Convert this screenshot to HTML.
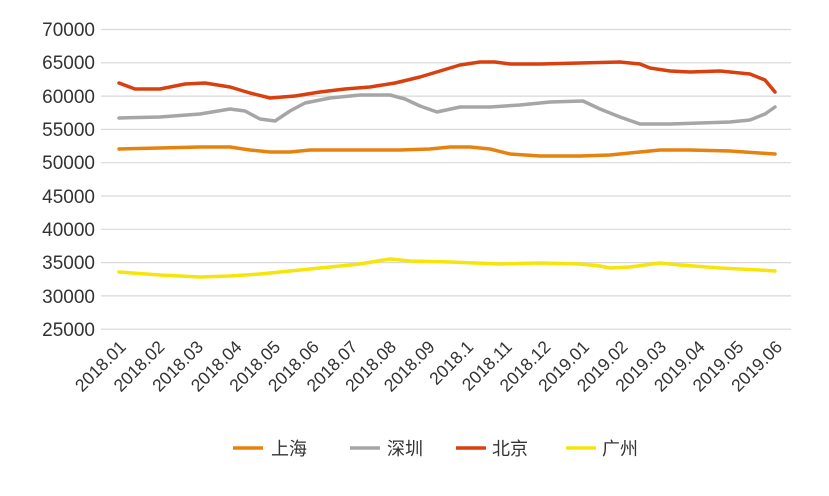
<!DOCTYPE html>
<html><head><meta charset="utf-8"><style>
html,body{margin:0;padding:0;background:#fff;}
svg{display:block;font-family:"Liberation Sans","Noto Sans CJK SC",sans-serif;}
</style></head><body>
<svg width="829" height="496" viewBox="0 0 829 496">
<g stroke="#d9d9d9" stroke-width="1.2">
<line x1="101" x2="791" y1="29.5" y2="29.5"/><line x1="101" x2="791" y1="62.8" y2="62.8"/>
<line x1="101" x2="791" y1="96.1" y2="96.1"/><line x1="101" x2="791" y1="129.4" y2="129.4"/>
<line x1="101" x2="791" y1="162.7" y2="162.7"/><line x1="101" x2="791" y1="196" y2="196"/>
<line x1="101" x2="791" y1="229.3" y2="229.3"/><line x1="101" x2="791" y1="262.6" y2="262.6"/>
<line x1="101" x2="791" y1="295.9" y2="295.9"/><line x1="101" x2="791" y1="329.2" y2="329.2"/>
</g>
<g fill="#333" font-size="19" text-anchor="end">
<text x="95" y="36">70000</text><text x="95" y="69">65000</text><text x="95" y="103">60000</text>
<text x="95" y="136">55000</text><text x="95" y="169">50000</text><text x="95" y="203">45000</text>
<text x="95" y="236">40000</text><text x="95" y="269">35000</text><text x="95" y="303">30000</text>
<text x="95" y="336">25000</text>
</g>
<g fill="#333" font-size="17.5" text-anchor="end">
<text transform="translate(127,348) rotate(-45)">2018.01</text>
<text transform="translate(165.6,348) rotate(-45)">2018.02</text>
<text transform="translate(204.2,348) rotate(-45)">2018.03</text>
<text transform="translate(242.8,348) rotate(-45)">2018.04</text>
<text transform="translate(281.4,348) rotate(-45)">2018.05</text>
<text transform="translate(320,348) rotate(-45)">2018.06</text>
<text transform="translate(358.6,348) rotate(-45)">2018.07</text>
<text transform="translate(397.2,348) rotate(-45)">2018.08</text>
<text transform="translate(435.8,348) rotate(-45)">2018.09</text>
<text transform="translate(474.4,348) rotate(-45)">2018.1</text>
<text transform="translate(513,348) rotate(-45)">2018.11</text>
<text transform="translate(551.6,348) rotate(-45)">2018.12</text>
<text transform="translate(590.2,348) rotate(-45)">2019.01</text>
<text transform="translate(628.8,348) rotate(-45)">2019.02</text>
<text transform="translate(667.4,348) rotate(-45)">2019.03</text>
<text transform="translate(706,348) rotate(-45)">2019.04</text>
<text transform="translate(744.6,348) rotate(-45)">2019.05</text>
<text transform="translate(783.2,348) rotate(-45)">2019.06</text>
</g>
<g fill="none" stroke-width="3.5" stroke-linejoin="round" stroke-linecap="round">
<polyline stroke="#d9400f" points="119,83 135,89 160,89 185,84 205,83 230,87 250,93 270,98 295,96 320,92 345,89 370,87 395,83 420,77 440,71 460,65 480,62 495,62 510,64 540,64 580,63 620,62 640,64 650,68 670,71 690,72 720,71 750,74 765,80 775,92"/>
<polyline stroke="#a6a6a6" points="119,118 160,117 200,114 230,109 245,111 260,119 275,121 290,111 305,103 330,98 360,95 390,95 405,99 420,106 437,112 460,107 490,107 520,105 550,102 583,101 600,109 620,117 640,124 670,124 700,123 730,122 750,120 765,114 775,107"/>
<polyline stroke="#e6820e" points="119,149 160,148 200,147 230,147 250,150 270,152 290,152 310,150 340,150 400,150 430,149 450,147 470,147 490,149 510,154 540,156 580,156 610,155 640,152 660,150 690,150 730,151 775,154"/>
<polyline stroke="#f5e50a" points="119,272 160,275 200,277 230,276 260,274 290,271 320,268 360,264 390,259 410,261 450,262 500,264 540,263 580,264 600,266 610,268 630,267 660,263 680,265 720,268 760,270 775,271"/>
</g>
<g stroke-width="3.5">
<line x1="233" x2="263" y1="448" y2="448" stroke="#e6820e"/>
<line x1="350" x2="380" y1="448" y2="448" stroke="#a6a6a6"/>
<line x1="456" x2="486" y1="448" y2="448" stroke="#d9400f"/>
<line x1="566" x2="596" y1="448" y2="448" stroke="#f5e50a"/>
</g>
<g fill="#333" font-size="18">
<text x="271" y="455">上海</text><text x="387" y="455">深圳</text>
<text x="492" y="455">北京</text><text x="602" y="455">广州</text>
</g>
</svg>
</body></html>
